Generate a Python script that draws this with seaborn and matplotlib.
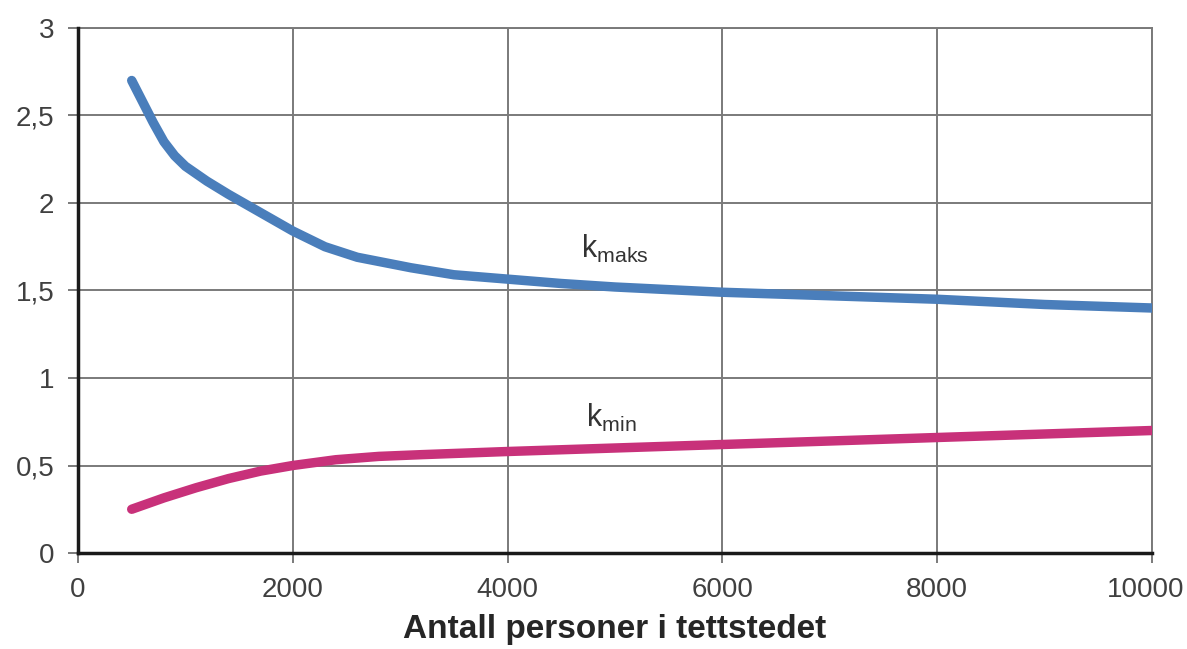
import matplotlib
matplotlib.use("Agg")
import matplotlib.pyplot as plt
from matplotlib.transforms import ScaledTranslation
import seaborn as sns
import pandas as pd

# Data
kmaks_x = [500, 600, 700, 800, 900, 1000, 1200, 1400, 1700, 2000, 2300, 2600, 3100, 3500,
           4000, 4500, 5000, 6000, 7000, 8000, 9000, 10000]
kmaks_y = [2.70, 2.58, 2.46, 2.35, 2.27, 2.21, 2.125, 2.05, 1.945, 1.84, 1.75, 1.69, 1.63, 1.59,
           1.565, 1.54, 1.52, 1.49, 1.47, 1.45, 1.42, 1.40]
kmin_x = [500, 800, 1100, 1400, 1700, 2000, 2400, 2800, 3200, 4000, 5000, 6000, 7000, 8000, 9000, 10000]
kmin_y = [0.25, 0.315, 0.373, 0.425, 0.468, 0.50, 0.533, 0.552, 0.562, 0.58, 0.60, 0.62, 0.64, 0.66, 0.68, 0.70]
x_ticks = [0, 2000, 4000, 6000, 8000, 10000]
y_ticks = [0, 0.5, 1, 1.5, 2, 2.5, 3]
y_tick_labels = ["0", "0,5", "1", "1,5", "2", "2,5", "3"]
x_label = "Antall personer i tettstedet"

sns.set_style("white")
plt.rcParams["font.family"] = ["Liberation Sans", "DejaVu Sans"]
plt.rcParams["mathtext.fontset"] = "custom"
plt.rcParams["mathtext.rm"] = "Liberation Sans"

df_max = pd.DataFrame({"x": kmaks_x, "y": kmaks_y})
df_min = pd.DataFrame({"x": kmin_x, "y": kmin_y})

fig = plt.figure(figsize=(11.87, 6.49), dpi=100)
ax = fig.add_axes([78 / 1187, 96 / 649, (1152 - 78) / 1187, (553 - 28) / 649])

sns.lineplot(data=df_max, x="x", y="y", ax=ax, color="#4A7EBB", linewidth=6.8,
             solid_capstyle="round", solid_joinstyle="round", zorder=3)
sns.lineplot(data=df_min, x="x", y="y", ax=ax, color="#C8317A", linewidth=6.8,
             solid_capstyle="round", solid_joinstyle="round", zorder=3)

ax.set_xlim(0, 10000)
ax.set_ylim(0, 3)
ax.set_xticks(x_ticks)
ax.set_xticklabels([str(v) for v in x_ticks])
ax.set_yticks(y_ticks)
ax.set_yticklabels(y_tick_labels)

ax.grid(True, color="#7a7a7a", linewidth=1.4)
ax.set_axisbelow(True)

for side in ["top", "right"]:
    ax.spines[side].set_visible(True)
    ax.spines[side].set_color("#7a7a7a")
    ax.spines[side].set_linewidth(1.4)
for side in ["left", "bottom"]:
    ax.spines[side].set_color("#1a1a1a")
    ax.spines[side].set_linewidth(2.5)
    ax.spines[side].set_zorder(4)

ax.tick_params(axis="both", which="major", direction="out", length=7, width=1.4,
               color="#7a7a7a", labelsize=20, labelcolor="#404040",
               bottom=True, left=True)
ax.tick_params(axis="x", pad=10)
ax.tick_params(axis="y", pad=10)

# nudge the last x tick label left so it stays inside the figure, as in the reference
last = ax.get_xticklabels()[-1]
last.set_transform(last.get_transform() + ScaledTranslation(-6 / 100, 0, fig.dpi_scale_trans))

ax.set_xlabel(x_label, fontsize=24, fontweight="bold", color="#262626", labelpad=8)
ax.set_ylabel("")

ax.text(5000, 1.74, r"$\mathregular{k_{maks}}$", fontsize=22, color="#333333",
        ha="center", va="center")
ax.text(4970, 0.77, r"$\mathregular{k_{min}}$", fontsize=22, color="#333333",
        ha="center", va="center")

fig.savefig("out.png", dpi=100)
